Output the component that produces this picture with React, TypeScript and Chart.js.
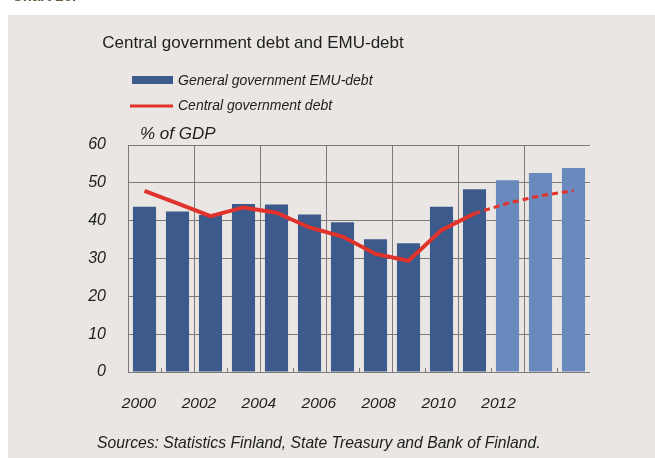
import React, { useEffect, useRef } from "react";
import { Chart, registerables } from "chart.js";

Chart.register(...registerables);

const years = ["2000","2001","2002","2003","2004","2005","2006","2007","2008","2009","2010","2011","2012","2013"];
const emuDebt = [43.7, 42.4, 41.5, 44.4, 44.3, 41.6, 39.6, 35.1, 34.0, 43.7, 48.3, 50.7, 52.6, 53.9];
const centralDebt = [47.9, 44.6, 41.2, 43.5, 42.1, 38.2, 35.8, 31.2, 29.4, 37.5, 41.9, 44.6, 46.6, 47.9];
const forecastStart = 10; // index from which values are forecasts
const yearTicks = [2000, 2002, 2004, 2006, 2008, 2010, 2012];
const yTicks = [0, 10, 20, 30, 40, 50, 60];

const DARK = "#3c5a8b";
const LIGHT = "#6a8abe";
const RED = "#e1322b";
const GRID = "#7d7b79";
const BG = "#e9e6e3";
const FONT = "'Liberation Sans', Arial, sans-serif";

const decorPlugin = {
  id: "decor",
  afterDraw(chart: any) {
    const ctx = chart.ctx;
    const x = chart.scales.x;
    const area = chart.chartArea;
    ctx.save();
    // small ticks at odd boundaries
    ctx.strokeStyle = GRID;
    ctx.lineWidth = 1;
    for (let k = 1; k < years.length; k += 2) {
      const px = Math.round((x.getPixelForValue(k - 1) + x.getPixelForValue(k)) / 2) + 0.5;
      ctx.beginPath();
      ctx.moveTo(px, area.bottom);
      ctx.lineTo(px, area.bottom - 4);
      ctx.stroke();
    }
    ctx.fillStyle = "#1e1e1e";
    // title
    ctx.font = `17px ${FONT}`;
    ctx.textAlign = "center";
    ctx.textBaseline = "middle";
    ctx.fillText("Central government debt and EMU-debt", 245, 28);
    // legend
    ctx.textAlign = "left";
    ctx.font = `italic 14px ${FONT}`;
    ctx.fillStyle = DARK;
    ctx.fillRect(124, 61, 41, 8);
    ctx.strokeStyle = RED;
    ctx.lineWidth = 3;
    ctx.beginPath();
    ctx.moveTo(122, 91);
    ctx.lineTo(165, 91);
    ctx.stroke();
    ctx.fillStyle = "#1e1e1e";
    ctx.fillText("General government EMU-debt", 170, 66);
    ctx.fillText("Central government debt", 170, 91);
    // unit
    ctx.font = `italic 17px ${FONT}`;
    ctx.fillText("% of GDP", 132, 119);
    // sources
    ctx.font = `italic 15.7px ${FONT}`;
    ctx.fillText("Sources: Statistics Finland, State Treasury and Bank of Finland.", 89, 429);
    ctx.restore();
  },
};

export default function App() {
  const ref = useRef<HTMLCanvasElement>(null);
  useEffect(() => {
    const chart = new Chart(ref.current as HTMLCanvasElement, {
      type: "bar",
      data: {
        labels: years,
        datasets: [
          {
            type: "line",
            label: "Central government debt",
            data: centralDebt,
            borderColor: RED,
            borderWidth: 4,
            pointRadius: 0,
            tension: 0,
            order: 0,
            segment: {
              borderDash: (c: any) => (c.p0DataIndex >= forecastStart ? [6, 4] : undefined),
              borderWidth: (c: any) => (c.p0DataIndex >= forecastStart ? 3 : 4),
            },
          } as any,
          {
            type: "bar",
            label: "General government EMU-debt",
            data: emuDebt,
            backgroundColor: emuDebt.map((_, i) => (i > forecastStart ? LIGHT : DARK)),
            borderWidth: 0,
            barPercentage: 0.7,
            categoryPercentage: 1,
            order: 1,
          },
        ],
      },
      options: {
        animation: false,
        responsive: false,
        layout: { padding: { top: 130, right: 65, left: 0, bottom: 0 } },
        plugins: { legend: { display: false }, title: { display: false }, tooltip: { enabled: false } },
        scales: {
          x: {
            type: "category",
            offset: true,
            ticks: { display: false },
            grid: {
              offset: true,
              drawTicks: false,
              color: (c: any) => (c.index % 2 === 0 ? GRID : "rgba(0,0,0,0)"),
            },
            border: { display: false },
            afterFit: (s: any) => { s.height = 0; },
          },
          x2: {
            type: "linear",
            position: "bottom",
            offset: false,
            min: 1999.633,
            max: 2015.05,
            afterBuildTicks: (s: any) => { s.ticks = yearTicks.map((v) => ({ value: v })); },
            ticks: {
              callback: (v: any) => String(v),
              font: { family: FONT, size: 15.5, style: "italic" },
              color: "#1e1e1e",
              padding: 22,
              maxRotation: 0,
              autoSkip: false,
            },
            grid: { display: false, drawTicks: false, offset: false },
            border: { display: false },
            afterFit: (s: any) => { s.height = 86; },
          },
          y: {
            min: 0,
            max: 60,
            afterBuildTicks: (s: any) => { s.ticks = yTicks.map((v) => ({ value: v })); },
            ticks: {
              font: { family: FONT, size: 16, style: "italic" },
              color: "#1e1e1e",
              padding: 22,
            },
            grid: { color: GRID, drawTicks: false },
            border: { color: GRID },
            afterFit: (s: any) => { s.width = 120; },
          },
        },
      },
      plugins: [decorPlugin],
    });
    return () => chart.destroy();
  }, []);

  return (
    <div>
      <div
        style={{
          position: "fixed",
          left: 12,
          top: -13,
          font: `bold 15px ${FONT}`,
          color: "#6b5b3e",
        }}
      >
        Chart 20.
      </div>
      <div
        style={{
          position: "fixed",
          left: 8,
          top: 15,
          width: 647,
          height: 443,
          background: BG,
        }}
      >
        <canvas ref={ref} width={647} height={443} style={{ display: "block" }} />
      </div>
    </div>
  );
}
